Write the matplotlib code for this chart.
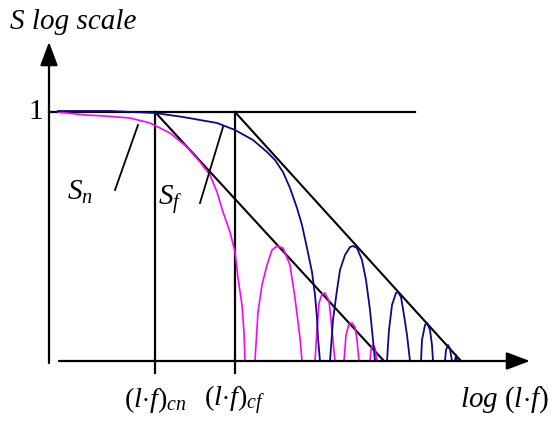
import matplotlib
matplotlib.use("Agg")
import matplotlib.pyplot as plt

plt.rcParams['font.family'] = ['Liberation Serif', 'DejaVu Serif']
plt.rcParams['mathtext.fontset'] = 'custom'
plt.rcParams['mathtext.rm'] = 'Liberation Serif'
plt.rcParams['mathtext.it'] = 'Liberation Serif:italic'

# schematic units: origin at axis crossing, S = 1 level at 249
s_one = 249
lf_cn = 106
lf_cf = 186
asym_n_end = 335
asym_f_end = 412

# S_n (magenta) main curve and side lobes
sn_x = [9, 36, 56, 81, 101, 121, 138, 151, 161, 168, 174, 181, 186, 189, 193, 195, 196]
sn_y = [249, 246, 245, 243, 238, 228, 214, 199, 186, 169, 149, 129, 109, 83, 56, 29, 0]
sn_lobes = [
    ([206, 209, 213, 218, 223, 228, 234, 241, 246, 251, 253],
     [0, 49, 76, 96, 111, 115, 113, 96, 63, 23, 0]),
    ([266, 268, 270, 273, 276, 280, 282, 286], [0, 31, 58, 67, 68, 60, 41, 0]),
    ([295, 297, 300, 303, 306, 308, 310], [0, 26, 37, 38, 34, 21, 0]),
    ([321, 322, 324, 326, 328], [0, 11, 16, 13, 0]),
]

# S_f (navy) main curve and side lobes
sf_x = [9, 61, 106, 134, 168, 186, 204, 218, 226, 234, 241, 248, 253, 258, 263, 266, 268, 269, 271]
sf_y = [250, 250, 248, 244, 238, 231, 221, 209, 201, 189, 173, 153, 136, 113, 89, 66, 43, 23, 0]
sf_lobes = [
    ([281, 284, 288, 291, 296, 301, 304, 308, 313, 317, 321, 324, 326],
     [0, 41, 71, 91, 106, 114, 115, 113, 101, 81, 51, 21, 0]),
    ([338, 340, 343, 347, 349, 352, 355, 358, 361], [0, 31, 56, 68, 69, 64, 46, 26, 0]),
    ([372, 373, 376, 378, 381, 383, 384], [0, 21, 36, 38, 31, 16, 0]),
    ([396, 397, 399, 401, 403], [0, 11, 16, 12, 0]),
    ([406, 407, 408], [0, 6, 0]),
]

tick_pos = [lf_cn, lf_cf]
tick_labels = [r'$(l{\cdot}f)_{cn}$', r'$(l{\cdot}f)_{cf}$']

fig = plt.figure(figsize=(5.52, 4.21), dpi=100)
ax = fig.add_axes([0, 0, 1, 1])
ax.set_xlim(-49, 503)
ax.set_ylim(-60, 361)
ax.axis('off')

magenta = '#ff00ff'
navy = '#0a0a84'

# axes with arrows
arrow = dict(arrowstyle='-|>,head_length=0.4,head_width=0.15', color='black',
             lw=1.6, mutation_scale=36, shrinkA=0, shrinkB=0)
ax.annotate('', xy=(0, 319), xytext=(0, -2), arrowprops=arrow)
ax.annotate('', xy=(481, 0), xytext=(10, 0), arrowprops=arrow)

# S = 1 level and the two corner frequencies
ax.plot([0, 366], [s_one, s_one], color='black', lw=1.6)
for xv in tick_pos:
    ax.plot([xv, xv], [s_one, -12], color='black', lw=1.6)

# asymptotes
ax.plot([lf_cn, asym_n_end], [s_one, 0], color='black', lw=1.5)
ax.plot([lf_cf, asym_f_end], [s_one, 0], color='black', lw=1.5)

# curves
ax.plot(sn_x, sn_y, color=magenta, lw=1.2)
for lx, ly in sn_lobes:
    ax.plot(lx, ly, color=magenta, lw=1.2)
ax.plot(sf_x, sf_y, color=navy, lw=1.3)
for lx, ly in sf_lobes:
    ax.plot(lx, ly, color=navy, lw=1.3)

# pointer lines to labels
ax.plot([66, 89], [171, 236], color='black', lw=1.3)
ax.plot([151, 174], [158, 234], color='black', lw=1.3)

# labels
ax.text(-39, 339, 'S log scale', fontsize=21, style='italic', ha='left', va='center')
ax.text(-13, s_one, '1', fontsize=21, ha='center', va='center')
ax.text(31, 169, r'$S_n$', fontsize=21, ha='center', va='center')
ax.text(121, 161, r'$S_f$', fontsize=21, ha='center', va='center')
for xv, lab in zip(tick_pos, tick_labels):
    ax.text(xv, -39, lab, fontsize=20.5, ha='center', va='center')
ax.text(500, -39, r'$log\ (l{\cdot}f)$', fontsize=21, ha='right', va='center')

fig.savefig('out.png', dpi=100)
